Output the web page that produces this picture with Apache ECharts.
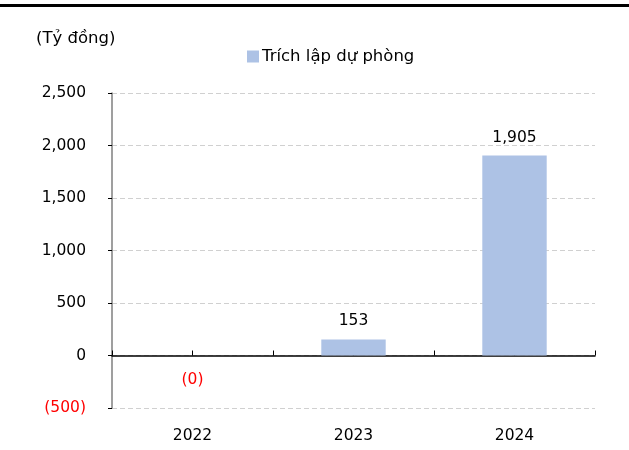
<!DOCTYPE html>
<html>
<head>
<meta charset="utf-8">
<script src="https://cdn.jsdelivr.net/npm/echarts@6/dist/echarts.min.js"></script>
<style>
  html, body { margin: 0; padding: 0; background: #fff; }
  #topLine { position: absolute; left: 0; top: 4px; width: 629px; height: 3px; background: #000; }
  #chart { width: 629px; height: 450px; }
</style>
</head>
<body>
<div id="topLine"></div>
<div id="chart"></div>
<script>
// du lieu bieu do
const categories = ['2022', '2023', '2024']
const provisionValues = [-0.2, 153, 1905]
const seriesName = 'Trích lập dự phòng'
const unitLabel = '(Tỷ đồng)'

const FONT = 'DejaVu Sans'

function fmt(v) {
  const s = Math.round(Math.abs(v)).toLocaleString('en-US')
  return v < 0 ? '(' + s + ')' : s
}

const chart = echarts.init(document.getElementById('chart'))

const barData = provisionValues.map(v => {
  if (v < 0) {
    return {
      value: v,
      label: { position: 'bottom', distance: 16, color: '#ff0000' }
    }
  }
  return { value: v }
})

const option = {
  animation: false,
  textStyle: { fontFamily: FONT },
  title: {
    text: unitLabel,
    left: 31,
    top: 25,
    textStyle: { fontFamily: FONT, fontSize: 16.5, fontWeight: 'normal', color: '#000' }
  },
  legend: {
    data: [seriesName],
    left: 242,
    top: 43,
    itemWidth: 12,
    itemHeight: 12,
    itemGap: 4,
    icon: 'rect',
    textStyle: { fontFamily: FONT, fontSize: 16.5, color: '#000', padding: [0, 0, 0, -2] }
  },
  grid: { left: 112, right: 34, top: 93, bottom: 42, containLabel: false },
  xAxis: [
    {
      type: 'category',
      data: categories,
      axisLine: { show: false, onZero: false },
      axisTick: { show: false },
      axisLabel: { fontFamily: FONT, fontSize: 15.5, color: '#000', margin: 20 }
    },
    {
      type: 'value',
      min: 0,
      max: 3,
      interval: 0.5,
      position: 'bottom',
      axisLine: { show: true, onZero: true, lineStyle: { color: '#000', width: 1.5 } },
      axisTick: { show: true, inside: true, length: 5, lineStyle: { color: '#000' } },
      axisLabel: { show: false },
      splitLine: { show: false }
    }
  ],
  yAxis: {
    type: 'value',
    min: -500,
    max: 2500,
    interval: 500,
    axisLine: { show: true, lineStyle: { color: '#7f7f7f', width: 1.5 } },
    axisTick: { show: true, length: 4, lineStyle: { color: '#000' } },
    axisLabel: {
      fontFamily: FONT,
      fontSize: 15.5,
      margin: 26,
      formatter: v => fmt(v),
      color: v => (v < 0 ? '#ff0000' : '#000')
    },
    splitLine: { show: true, lineStyle: { color: '#d0d0d0', type: [5, 3] } }
  },
  series: [
    {
      name: seriesName,
      type: 'bar',
      xAxisIndex: 0,
      data: barData,
      barWidth: '40%',
      itemStyle: { color: '#adc2e5' },
      label: {
        show: true,
        position: 'top',
        distance: 10,
        fontFamily: FONT,
        fontSize: 15.5,
        color: '#000',
        formatter: p => fmt(p.value)
      }
    }
  ]
}

chart.setOption(option)
</script>
</body>
</html>
